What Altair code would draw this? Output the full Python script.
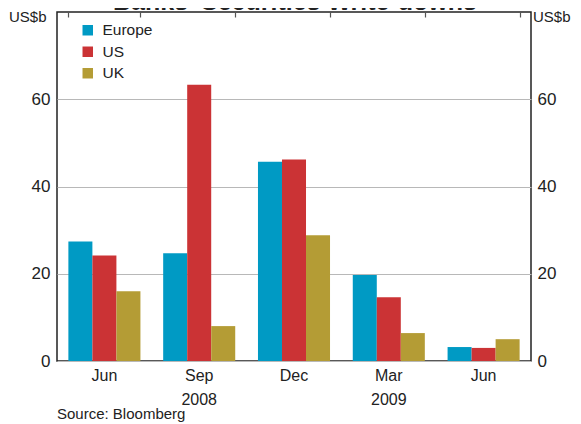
import altair as alt
import pandas as pd

# ---- data ----
quarters = ["Jun 2008", "Sep 2008", "Dec 2008", "Mar 2009", "Jun 2009"]
series = ["Europe", "US", "UK"]
europe = [27.4, 24.7, 45.7, 19.7, 3.2]
us = [24.2, 63.3, 46.2, 14.6, 3.0]
uk = [16.0, 8.0, 28.8, 6.4, 5.0]
colors = ["#009ac4", "#cb3335", "#b49c35"]
y_ticks = [0, 20, 40, 60]
unit_label = ["US$b"]
source_note = ["Source: Bloomberg"]
chart_title = ["Banks' Securities Write-downs"]

rows = []
for name, vals in zip(series, [europe, us, uk]):
    for q, v in zip(quarters, vals):
        rows.append({"quarter": q, "region": name, "value": v})
df = pd.DataFrame(rows)

FONT = "Liberation Sans"
TXT = "#222222"

x_scale = alt.Scale(domain=quarters, paddingInner=0.24, paddingOuter=0.12)
y_scale = alt.Scale(domain=[0, 80], nice=False, zero=True)

label_expr = (
    "datum.value == 'Sep 2008' ? ['Sep', '2008'] : "
    "datum.value == 'Mar 2009' ? ['Mar', '2009'] : "
    "[split(datum.value, ' ')[0]]"
)

bars = alt.Chart(df).mark_bar().encode(
    x=alt.X(
        "quarter:N", sort=quarters, scale=x_scale,
        axis=alt.Axis(title=None, labelExpr=label_expr, labelAngle=0, ticks=False,
                      domain=False, grid=False, labelPadding=6, labelFontSize=16,
                      labelFont=FONT, labelColor=TXT, labelLineHeight=24),
    ),
    xOffset=alt.XOffset("region:N", sort=series,
                        scale=alt.Scale(domain=series, paddingInner=0, paddingOuter=0)),
    y=alt.Y(
        "value:Q", scale=y_scale,
        axis=alt.Axis(title=None, orient="left", values=y_ticks, grid=True,
                      gridColor="#b8b8b8", gridWidth=1.2, ticks=False, domain=False,
                      labelPadding=7, labelFontSize=17, labelFont=FONT, labelColor=TXT),
    ),
    color=alt.Color(
        "region:N", sort=series, scale=alt.Scale(domain=series, range=colors),
        legend=alt.Legend(title=None, orient="none", legendX=23, legendY=10.5,
                          symbolType="square", symbolSize=110, symbolStrokeWidth=0,
                          labelFontSize=15.5, labelFont=FONT, labelColor=TXT,
                          labelOffset=7, rowPadding=4.5, padding=0),
    ),
)

ticks = alt.Chart(df).mark_point(opacity=0).encode(
    x=alt.X(
        "quarter:N", sort=quarters, scale=x_scale,
        axis=alt.Axis(title=None, labels=False, domain=False, grid=False, ticks=True,
                      tickBand="extent", tickSize=5, offset=-5, tickColor="#555555",
                      tickWidth=1.2),
    ),
    y=alt.Y(
        "value:Q", scale=y_scale,
        axis=alt.Axis(title=None, orient="right", values=y_ticks, grid=False,
                      ticks=False, domain=False, labelPadding=6, labelFontSize=17,
                      labelFont=FONT, labelColor=TXT),
    ),
)

unit_df = pd.DataFrame({"t": unit_label})
unit_left = alt.Chart(unit_df).mark_text(
    align="left", baseline="middle", fontSize=15, font=FONT, color=TXT
).encode(text="t:N", x=alt.value(-48), y=alt.value(5))
unit_right = alt.Chart(unit_df).mark_text(
    align="left", baseline="middle", fontSize=15, font=FONT, color=TXT
).encode(text="t:N", x=alt.value(476), y=alt.value(5))

source = alt.Chart(pd.DataFrame({"t": source_note})).mark_text(
    align="left", baseline="alphabetic", fontSize=15, font=FONT, color=TXT
).encode(text="t:N", x=alt.value(0), y=alt.value(406.5))

title = alt.Chart(pd.DataFrame({"t": chart_title})).mark_text(
    align="center", baseline="alphabetic", fontSize=25, fontWeight="bold",
    font=FONT, color=TXT
).encode(text="t:N", x=alt.value(238), y=alt.value(-2))

chart = alt.layer(bars, ticks, unit_left, unit_right, source, title).resolve_axis(
    x="independent", y="independent"
).properties(
    width=474, height=349,
    autosize=alt.AutoSizeParams(type="none"),
    padding={"left": 49, "top": 4, "right": 42, "bottom": 63},
    background="white",
).configure_view(stroke="#222222", strokeWidth=1.5)

chart.save("out.html", embed_options={"renderer": "svg", "actions": False})
